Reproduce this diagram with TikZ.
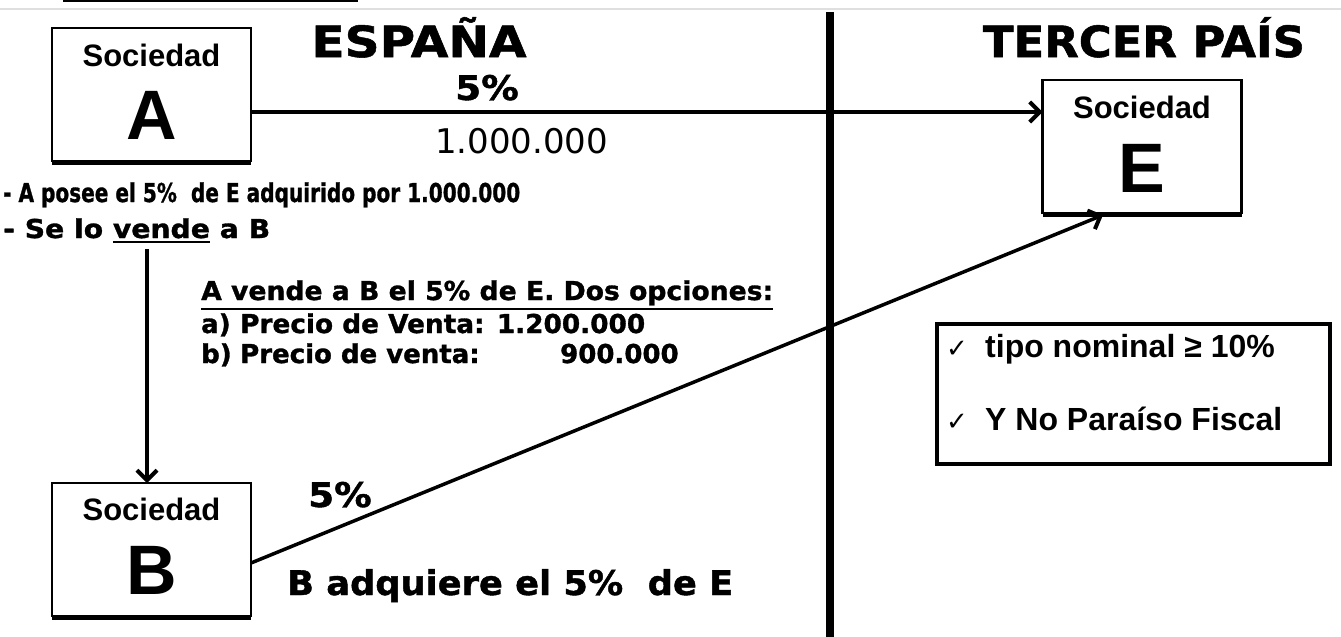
\documentclass[tikz,border=0pt]{standalone}
\usepackage{fontspec}
\setmainfont{Liberation Sans}
\newfontfamily\vfont{DejaVu Sans}[BoldFeatures={FakeBold=1.2}]
\newfontfamily\dvfont{DejaVu Sans}
\usetikzlibrary{arrows.meta}
\newcommand\fitw[2]{\resizebox{#1}{\height}{#2}}
\newcommand\myul[1]{\leavevmode\vtop{\hbox{#1}\kern2.5pt\hrule height 2.4pt}}
\begin{document}
\begin{tikzpicture}[x=1pt,y=-1pt,
  box/.style={draw, line width=2.5pt, minimum width=199pt, minimum height=133pt, inner sep=0pt, outer sep=0pt},
  soc/.style={font=\bfseries\fontsize{31}{31}\selectfont, anchor=base, inner sep=0pt},
  big/.style={font=\bfseries\fontsize{70}{70}\selectfont, anchor=base, inner sep=0pt},
  vbig/.style={font=\vfont\bfseries\fontsize{34}{34}\selectfont, anchor=base west, inner sep=0pt},
  vmid/.style={font=\vfont\bfseries\fontsize{26}{26}\selectfont, anchor=base west, inner sep=0pt},
  title/.style={font=\vfont\bfseries\fontsize{43}{43}\selectfont, anchor=base, inner sep=0pt},
  cond/.style={font=\bfseries\fontsize{32}{32}\selectfont, anchor=base west, inner sep=0pt},
  tick/.style={font=\dvfont\fontsize{26}{26}\selectfont, anchor=base west, inner sep=0pt},
  conn/.style={line width=3.5pt, -{Straight Barb[length=10pt,width=20pt,line width=4pt]}},
]
\useasboundingbox (0,0) rectangle (1341,637);
\fill[white] (0,0) rectangle (1341,637);
% cut-off remnants at the top
\draw[gray!25, line width=2pt] (0,9) -- (1341,9);
\draw[line width=2pt] (63,1) -- (358,1);
% separator
\coordinate (s1) at (830,12);
\coordinate (s2) at (830,637);
\draw[line width=7.5pt] (s1) -- (s2);
% titles
\node[title] (esp) at (419,57) {\fitw{215pt}{ESPAÑA}};
\node[title] (ter) at (1144,57) {\fitw{322pt}{TERCER PAÍS}};
% boxes
\node[box] (A) at (151.5,94.5) {};
\node[box] (B) at (151.5,549.5) {};
\node[box] (E) at (1142,146.5) {};
\foreach \n in {A,B,E}
  \draw[line width=5pt] ([yshift=-1.5pt]\n.south west) -- ([yshift=-1.5pt]\n.south east);
\node[soc] (Asoc) at ([yshift=-38pt]A.north) {Sociedad};
\node[big] (Alet) at ([yshift=-111pt]A.north) {A};
\node[soc] (Bsoc) at ([yshift=-37pt]B.north) {Sociedad};
\node[big] (Blet) at ([yshift=-111pt]B.north) {B};
\node[soc] (Esoc) at ([yshift=-38pt]E.north) {Sociedad};
\node[big] (Elet) at ([yshift=-112pt]E.north) {E};
% A -> E
\coordinate (h) at (0,112);
\draw[conn] (A.east |- h) -- (E.west |- h);
\node[vbig, anchor=base] (p1) at (487,100) {\scalebox{1.1}[1]{5\%}};
\node[font=\vfont\fontsize{34}{34}\selectfont, anchor=base west, inner sep=0pt] (amt) at (435,153) {1.000.000};
% texts under A
\node[vmid] (l1) at (3,202) {\fitw{517pt}{- A posee el 5\%\ \ de E adquirido por 1.000.000}};
\node[vmid] (l2) at (3,238) {\fitw{267pt}{- Se lo \myul{vende} a B}};
\node[vmid] (l3) at (201,300) {\fitw{572pt}{\myul{A vende a B el 5\% de E. Dos opciones:}}};
\node[vmid] (l4a) at (201,333) {a)};
\node[vmid] (l4b) at (240,333) {\fitw{405pt}{Precio de Venta: 1.200.000}};
\node[vmid] (l5a) at (201,363) {b)};
\node[vmid] (l5b) at (240,363) {Precio de venta:};
\node[vmid] (l5c) at (560,363) {900.000};
% A -> B
\coordinate (vt) at (147,249);
\draw[conn] (vt) -- (vt |- B.north);
% B -> E
\coordinate (d1) at (0,563);
\coordinate (d2) at ([xshift=-39pt,yshift=-2pt]E.south);
\draw[conn] (B.east |- d1) -- (d2);
\node[vbig] (p2) at (308,507) {\scalebox{1.1}[1]{5\%}};
\node[vbig] (badq) at (287,595) {\fitw{446pt}{B adquiere el 5\%\ \ de E}};
% condition box
\node[draw, line width=4pt, minimum width=393pt, minimum height=140pt, inner sep=0pt] (C) at (1133.5,394) {};
\node[tick] (t1) at (946,357) {✓};
\node[cond] (c1) at (985,357) {tipo nominal ≥ 10\%};
\node[tick] (t2) at (946,430) {✓};
\node[cond] (c2) at (985,430) {Y No Paraíso Fiscal};
\end{tikzpicture}
\end{document}
